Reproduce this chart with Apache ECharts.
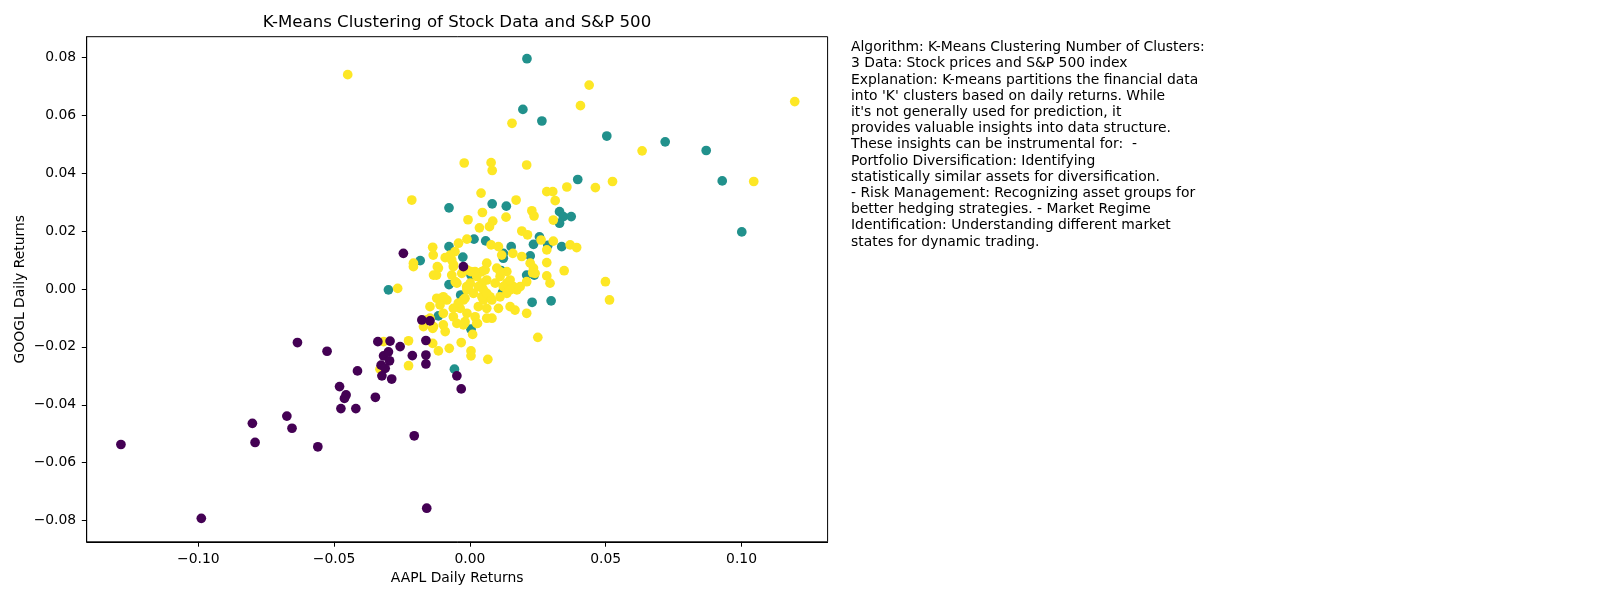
<!DOCTYPE html>
<html>
<head>
<meta charset="utf-8">
<script src="https://cdn.jsdelivr.net/npm/echarts@6/dist/echarts.min.js"></script>
<style>
html,body{margin:0;padding:0;background:#fff;}
#chart{width:1600px;height:600px;}
</style>
</head>
<body>
<div id="chart"></div>
<script>
const titleText = "K-Means Clustering of Stock Data and S&P 500";
const xName = "AAPL Daily Returns";
const yName = "GOOGL Daily Returns";
const xTicks = [-0.10, -0.05, 0.00, 0.05, 0.10];
const yTicks = [-0.08, -0.06, -0.04, -0.02, 0.00, 0.02, 0.04, 0.06, 0.08];
const clusterColors = ["#440154", "#21918c", "#fde725"];
const noteLines = [
  "Algorithm: K-Means Clustering Number of Clusters:",
  "3 Data: Stock prices and S&P 500 index",
  "Explanation: K-means partitions the financial data",
  "into 'K' clusters based on daily returns. While",
  "it's not generally used for prediction, it",
  "provides valuable insights into data structure.",
  "These insights can be instrumental for:  -",
  "Portfolio Diversification: Identifying",
  "statistically similar assets for diversification.",
  "- Risk Management: Recognizing asset groups for",
  "better hedging strategies. - Market Regime",
  "Identification: Understanding different market",
  "states for dynamic trading."
];

// cluster 0 (purple)
const cluster0 = [
[-0.1285,-0.0537],[-0.0989,-0.0792],[-0.0801,-0.0464],[-0.0791,-0.0530],[-0.0674,-0.0439],
[-0.0655,-0.0481],[-0.0635,-0.0185],[-0.0560,-0.0545],[-0.0526,-0.0215],[-0.0480,-0.0337],
[-0.0475,-0.0413],[-0.0456,-0.0366],[-0.0462,-0.0378],[-0.0414,-0.0283],[-0.0420,-0.0413],
[-0.0348,-0.0374],[-0.0339,-0.0182],[-0.0294,-0.0180],[-0.0318,-0.0231],[-0.0300,-0.0217],
[-0.0296,-0.0248],[-0.0327,-0.0263],[-0.0312,-0.0274],[-0.0324,-0.0300],[-0.0288,-0.0311],
[-0.0257,-0.0199],[-0.0212,-0.0230],[-0.0205,-0.0507],[-0.0245,0.0123],[-0.0024,0.0077],
[-0.0177,-0.0107],[-0.0147,-0.0110],[-0.0162,-0.0178],[-0.0162,-0.0228],[-0.0162,-0.0259],
[-0.0159,-0.0757],[-0.0048,-0.0300],[-0.0032,-0.0345]
];
// cluster 1 (teal)
const cluster1 = [
[0.0210,0.0795],[0.0195,0.0620],[0.0265,0.0580],[0.0504,0.0528],[0.0719,0.0508],
[0.0870,0.0478],[0.0929,0.0373],[0.1001,0.0197],[0.0397,0.0378],
[0.0330,0.0267],[0.0344,0.0250],[0.0373,0.0250],[0.0330,0.0227],[0.0338,0.0146],
[0.0256,0.0180],[0.0234,0.0154],[0.0287,0.0151],[0.0222,0.0114],[0.0209,0.0048],
[0.0237,0.0048],[0.0229,-0.0046],[0.0299,-0.0041],
[0.0134,0.0286],[0.0082,0.0294],[-0.0077,0.0280],[0.0015,0.0172],[0.0058,0.0166],
[0.0152,0.0146],[0.0123,0.0123],[0.0123,0.0106],[0.0115,0.0063],[0.0120,-0.0012],
[-0.0077,0.0146],[-0.0183,0.0098],[-0.0300,-0.0003],[-0.0026,0.0110],[0.0004,0.0048],
[0.0018,0.0055],[-0.0077,0.0015],[-0.0034,-0.0021],[-0.0116,-0.0093],[0.0004,-0.0139],
[-0.0057,-0.0277]
];
// cluster 2 (yellow)
const cluster2 = [
[-0.0450,0.0740],[0.0439,0.0704],[0.0407,0.0633],[0.1196,0.0647],[0.0155,0.0572],
[0.0634,0.0477],[0.1045,0.0371],[0.0525,0.0371],[0.0462,0.0350],[0.0357,0.0352],
[0.0499,0.0025],[0.0514,-0.0038],
[-0.0021,0.0435],[0.0078,0.0436],[0.0082,0.0409],[0.0209,0.0428],
[-0.0214,0.0307],[0.0041,0.0331],[0.0170,0.0307],[0.0283,0.0336],[0.0305,0.0336],[0.0314,0.0305],
[0.0228,0.0270],[0.0236,0.0252],[0.0307,0.0238],[0.0046,0.0264],[-0.0007,0.0239],[0.0133,0.0248],
[0.0084,0.0234],[0.0072,0.0215],[0.0035,0.0211],
[0.0191,0.0200],[0.0212,0.0187],[0.0262,0.0169],[0.0307,0.0165],[0.0369,0.0152],[0.0393,0.0143],
[0.0283,0.0135],
[-0.0137,0.0144],[-0.0135,0.0117],[-0.0042,0.0158],[-0.0055,0.0129],[-0.0091,0.0108],
[-0.0073,0.0117],[-0.0011,0.0172],
[0.0078,0.0152],[0.0105,0.0146],[0.0191,0.0112],[0.0158,0.0123],[0.0283,0.0091],[0.0347,0.0063],
[0.0234,0.0072],[0.0231,0.0056],[0.0283,0.0045],[0.0295,0.0020],[0.0209,0.0025],
[-0.0208,0.0089],[-0.0208,0.0077],[-0.0116,0.0072],[-0.0123,0.0048],[-0.0060,0.0083],
[-0.0067,0.0048],[0.0003,0.0060],
[0.0062,0.0089],[0.0044,0.0060],[0.0099,0.0072],[0.0136,0.0060],[0.0062,0.0031],[0.0044,0.0008],
[0.0136,0.0020],[0.0160,0.0008],[-0.0048,0.0020],[-0.0012,0.0008],
[-0.0134,0.0048],[-0.0120,0.0077],[-0.0067,0.0100],[-0.0061,0.0077],[-0.0011,0.0066],
[0.0001,0.0020],[0.0025,0.0043],[0.0056,0.0066],[0.0044,0.0020],[0.0050,-0.0003],
[0.0013,-0.0015],[-0.0011,-0.0003],[-0.0024,-0.0038],[-0.0036,-0.0067],[-0.0085,-0.0038],
[-0.0122,-0.0032],[-0.0147,-0.0061],[-0.0110,-0.0055],[-0.0098,-0.0084],[-0.0061,-0.0067],
[-0.0061,-0.0096],[-0.0011,-0.0084],[-0.0018,-0.0113],[0.0019,-0.0096],[0.0031,-0.0061],
[0.0050,-0.0038],[0.0074,-0.0027],[0.0062,-0.0067],[0.0081,-0.0101],[0.0105,-0.0067],
[0.0123,0.0008],[0.0111,-0.0027],[0.0136,-0.0015],[0.0148,0.0031],[0.0173,-0.0003],
[0.0185,0.0008],[0.0240,0.0054],[0.0222,0.0089],[0.0117,0.0117],[0.0148,-0.0061],
[0.0166,-0.0073],[0.0209,-0.0084],[0.0111,0.0043],[0.0093,0.0020],[0.0025,-0.0119],
[-0.0048,-0.0119],[-0.0147,-0.0101],[-0.0171,-0.0130],
[-0.0226,-0.0179],[-0.0226,-0.0265],[-0.0137,-0.0188],[-0.0116,-0.0214],[-0.0076,-0.0205],
[-0.0032,-0.0185],[0.0004,-0.0214],[0.0004,-0.0231],[0.0066,-0.0243],[0.0250,-0.0167],
[0.0010,-0.0157],[-0.0137,-0.0136],[0.0028,-0.0119],[-0.0020,-0.0119],
[-0.0159,-0.0107],[-0.0318,-0.0182],[-0.0331,-0.0277],[-0.0266,0.0002],
[-0.0043,-0.0049],[-0.0018,-0.0032],[-0.0006,0.0002],[0.0031,0.0008],[0.0044,-0.0027],
[0.0062,-0.0015],[0.0081,-0.0038],[-0.0024,-0.0124],[0.0062,-0.0101],[-0.0091,-0.0147],
[-0.0098,-0.0124],[-0.0134,-0.0130],[-0.0098,-0.0027],[-0.0054,0.0025],[-0.0030,0.0054],
[0.0019,0.0060],[0.0111,0.0060],[0.0148,-0.0003]
];

const FONT = "DejaVu Sans";
const FS = 13.9;
const fmt = v => v.toFixed(2).replace('-', '\u2212');

const chart = echarts.init(document.getElementById('chart'), null, {renderer: 'canvas'});

function axisCommon(ticks) {
  return {
    type: 'value',
    axisLine: {show: true, onZero: false, lineStyle: {color: '#000', width: 1}},
    axisTick: {show: true, inside: false, length: 4.9, customValues: ticks, lineStyle: {color: '#000', width: 1}},
    axisLabel: {show: true, customValues: ticks, formatter: fmt, margin: 10.5, color: '#000', fontSize: FS, fontFamily: FONT},
    splitLine: {show: false},
    nameLocation: 'middle',
    nameTextStyle: {color: '#000', fontSize: FS, fontFamily: FONT}
  };
}

const sym = 9.7;
function scatterSeries(name, data, color) {
  return {
    name: name, type: 'scatter', data: data, symbol: 'circle', symbolSize: sym,
    itemStyle: {color: color, opacity: 1},
    emphasis: {disabled: true},
    animation: false
  };
}

chart.setOption({
  animation: false,
  backgroundColor: '#fff',
  grid: {left: 86.7, right: 772.4, top: 36.7, bottom: 58.2, show: true, borderColor: '#000', borderWidth: 1, backgroundColor: 'transparent', containLabel: false},
  xAxis: Object.assign(axisCommon(xTicks), {min: -0.1411, max: 0.1317, name: xName, nameGap: 30}),
  yAxis: Object.assign(axisCommon(yTicks), {min: -0.0873, max: 0.0871, name: yName, nameGap: 59, nameRotate: 90}),
  series: [
    scatterSeries('Cluster 1', cluster1, clusterColors[1]),
    scatterSeries('Cluster 2', cluster2, clusterColors[2]),
    scatterSeries('Cluster 0', cluster0, clusterColors[0])
  ],
  graphic: [
    {type: 'text', x: 457, y: 14, silent: true,
     style: {text: titleText, fill: '#000', font: '16.6px "DejaVu Sans"', align: 'center', verticalAlign: 'top'}},
    {type: 'text', x: 851, y: 39.5, silent: true,
     style: {text: noteLines.join('\n'), fill: '#000', font: FS + 'px "DejaVu Sans"', lineHeight: 16.2, align: 'left', verticalAlign: 'top'}}
  ]
});
</script>
</body>
</html>
